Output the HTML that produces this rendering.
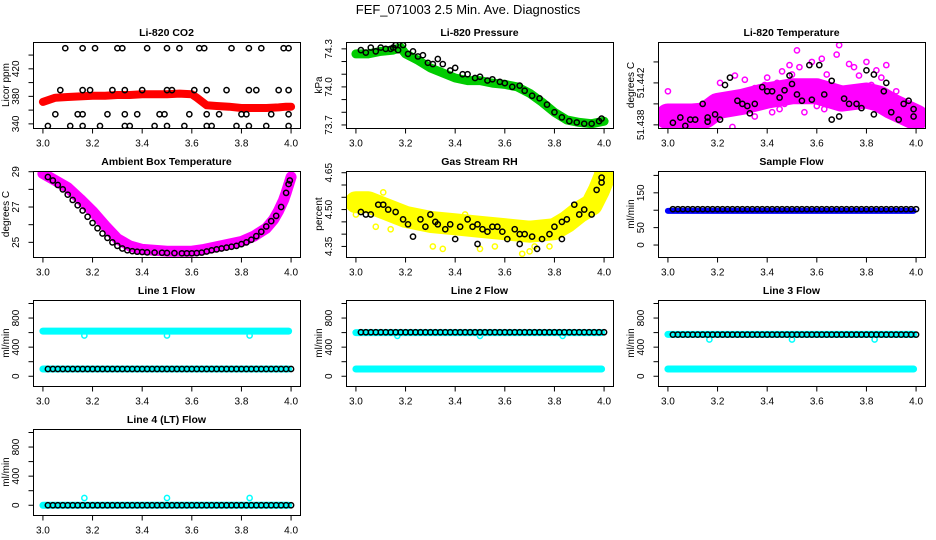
<!DOCTYPE html>
<html><head><meta charset="utf-8"><style>
html,body{margin:0;padding:0;background:#fff;}
svg{display:block;font-family:"Liberation Sans",Arial,sans-serif;}
</style></head><body>
<svg id="chart" width="936" height="540" viewBox="0 0 936 540">
<text x="468" y="14" text-anchor="middle" font-size="13">FEF_071003  2.5 Min. Ave. Diagnostics</text>
</svg>
<script>
// ---- data ----
const xTicks = [3.0, 3.2, 3.4, 3.6, 3.8, 4.0];
const xTickLabels = ["3.0", "3.2", "3.4", "3.6", "3.8", "4.0"];

const co2BandX = [3.0,3.05,3.1,3.15,3.2,3.25,3.3,3.35,3.4,3.45,3.5,3.55,3.6,3.62,3.66,3.7,3.75,3.8,3.85,3.9,3.95,3.98,4.0];
const co2BandY = [372,378,379,380,381,381,382,382,383,383,383,384,383,378,367,366,365,363,363,363,364,365,365];
const co2PtsX = [3.09,3.16,3.21,3.3,3.32,3.42,3.5,3.55,3.63,3.65,3.76,3.83,3.88,3.97,3.99,
  3.07,3.16,3.19,3.28,3.33,3.4,3.5,3.52,3.61,3.66,3.74,3.83,3.86,3.95,3.99,
  3.05,3.14,3.16,3.26,3.33,3.38,3.47,3.49,3.59,3.66,3.71,3.8,3.82,3.92,3.99,
  3.02,3.11,3.16,3.23,3.33,3.35,3.45,3.5,3.57,3.66,3.68,3.78,3.83,3.9,3.99];
const co2PtsY = [450,450,450,450,450,450,450,450,450,450,450,450,450,450,450,
  389,389,389,389,389,389,389,389,389,389,389,389,389,389,389,
  354,354,354,354,354,354,354,354,354,354,354,354,354,354,354,
  337,337,337,337,337,337,337,337,337,337,337,337,337,337,337];

const presBandX = [3.0,3.05,3.1,3.15,3.18,3.2,3.25,3.3,3.35,3.4,3.45,3.5,3.55,3.6,3.65,3.7,3.75,3.8,3.85,3.9,3.95,4.0];
const presBandY = [74.26,74.26,74.28,74.29,74.31,74.26,74.21,74.15,74.11,74.07,74.05,74.05,74.03,74.02,74.0,73.95,73.88,73.8,73.74,73.72,73.71,73.73];
const presPtsX = [3.02,3.04,3.06,3.08,3.1,3.12,3.14,3.15,3.16,3.17,3.19,3.21,3.23,3.25,3.27,3.29,3.31,3.33,3.35,3.38,3.4,3.43,3.45,3.48,3.5,3.53,3.55,3.58,3.6,3.63,3.66,3.68,3.71,3.74,3.77,3.8,3.83,3.86,3.89,3.92,3.95,3.98,3.99];
const presPtsY = [74.29,74.27,74.31,74.28,74.31,74.3,74.3,74.31,74.33,74.29,74.33,74.26,74.28,74.24,74.25,74.19,74.18,74.22,74.18,74.13,74.15,74.1,74.1,74.07,74.08,74.05,74.06,74.04,74.03,74.0,74.01,73.97,73.93,73.91,73.86,73.8,73.76,73.73,73.72,73.71,73.71,73.73,73.75];

const tempBandX = [3.0,3.1,3.15,3.2,3.3,3.4,3.5,3.6,3.7,3.8,3.85,3.9,4.0];
const tempBandY = [51.4388,51.4388,51.4389,51.4398,51.4402,51.4408,51.4412,51.4412,51.4405,51.4408,51.4405,51.4398,51.4387];
const tempMagX = [3.0,3.01,3.03,3.05,3.07,3.09,3.12,3.14,3.17,3.19,3.21,3.23,3.25,3.26,3.27,3.29,3.31,3.33,3.35,3.37,3.39,3.4,3.42,3.44,3.46,3.47,3.49,3.5,3.52,3.53,3.55,3.56,3.58,3.6,3.62,3.64,3.66,3.68,3.69,3.71,3.73,3.75,3.77,3.79,3.8,3.82,3.84,3.86,3.88,3.9,3.92,3.94,3.96,3.98,3.99,3.07,3.2,3.35,3.45,3.58,3.63,3.7,3.85,3.95];
const tempMagY = [51.4412,51.4395,51.4383,51.4393,51.4379,51.4392,51.4381,51.4394,51.4382,51.4405,51.4420,51.4403,51.4397,51.4378,51.4427,51.4410,51.4423,51.4391,51.4415,51.4398,51.4418,51.4425,51.4392,51.4420,51.4431,51.4400,51.4437,51.4428,51.4451,51.4435,51.4392,51.4410,51.4440,51.4398,51.4443,51.4428,51.4415,51.4447,51.4456,51.4405,51.4438,51.4435,51.4427,51.4412,51.4440,51.4418,51.4432,51.4425,51.4437,51.4405,51.4412,51.4388,51.4400,51.4392,51.4386,51.4386,51.4392,51.4388,51.4395,51.4420,51.4395,51.4398,51.4410,51.4383];
const tempBlkX = [3.02,3.05,3.07,3.09,3.11,3.14,3.16,3.16,3.19,3.21,3.23,3.25,3.28,3.3,3.32,3.33,3.35,3.38,3.4,3.42,3.45,3.47,3.49,3.5,3.52,3.54,3.57,3.58,3.61,3.63,3.66,3.66,3.69,3.71,3.73,3.76,3.78,3.8,3.83,3.83,3.87,3.88,3.9,3.93,3.95,3.97,3.99,3.99];
const tempBlkY = [51.4382,51.4387,51.4379,51.4385,51.4385,51.4400,51.4383,51.4387,51.4390,51.4385,51.4418,51.4425,51.4403,51.4400,51.4398,51.4391,51.4400,51.4416,51.4412,51.4412,51.4406,51.4413,51.4427,51.4419,51.4409,51.4403,51.4437,51.4404,51.4437,51.4409,51.4422,51.4385,51.4388,51.4405,51.4400,51.4400,51.4396,51.4432,51.4428,51.4390,51.4412,51.4420,51.4392,51.4385,51.4400,51.4403,51.4395,51.4388];

const ambBandX = [3.0,3.05,3.1,3.15,3.2,3.25,3.3,3.35,3.4,3.5,3.6,3.65,3.7,3.8,3.85,3.9,3.93,3.95,3.97,3.98,4.0];
const ambBandY = [28.9,28.5,28.1,27.45,26.75,25.95,25.2,24.8,24.6,24.5,24.5,24.6,24.75,25.05,25.35,25.8,26.3,26.8,27.4,27.8,28.7];
const ambPtsX = [3.02,3.04,3.06,3.08,3.1,3.12,3.14,3.16,3.18,3.2,3.22,3.24,3.26,3.28,3.3,3.32,3.34,3.36,3.38,3.4,3.42,3.45,3.48,3.5,3.53,3.56,3.58,3.6,3.62,3.64,3.66,3.68,3.7,3.72,3.74,3.76,3.78,3.8,3.82,3.84,3.86,3.88,3.9,3.92,3.94,3.96,3.98,3.99,3.995];
const ambPtsY = [28.7,28.5,28.25,28.0,27.7,27.4,27.1,26.8,26.45,26.1,25.8,25.5,25.25,25.0,24.8,24.65,24.55,24.5,24.47,24.45,24.43,24.42,24.41,24.4,24.39,24.38,24.38,24.38,24.39,24.42,24.48,24.55,24.6,24.65,24.7,24.75,24.8,24.9,25.0,25.15,25.35,25.6,25.9,26.2,26.5,27.0,27.8,28.3,28.5];

const rhBandX = [3.0,3.05,3.1,3.2,3.3,3.4,3.5,3.6,3.7,3.8,3.85,3.9,3.95,3.98,4.0];
const rhBandY = [4.53,4.53,4.51,4.47,4.45,4.44,4.43,4.42,4.41,4.42,4.45,4.49,4.52,4.58,4.63];
const rhBlkX = [3.02,3.04,3.06,3.09,3.11,3.13,3.16,3.19,3.21,3.23,3.26,3.28,3.3,3.32,3.33,3.36,3.38,3.4,3.42,3.45,3.47,3.49,3.49,3.51,3.53,3.55,3.57,3.59,3.61,3.64,3.66,3.66,3.68,3.71,3.73,3.75,3.78,3.8,3.83,3.83,3.85,3.88,3.9,3.92,3.95,3.97,3.99,3.99];
const rhBlkY = [4.49,4.48,4.48,4.52,4.52,4.5,4.49,4.46,4.44,4.39,4.46,4.43,4.48,4.45,4.44,4.42,4.44,4.38,4.43,4.46,4.43,4.44,4.36,4.42,4.41,4.43,4.43,4.41,4.38,4.42,4.4,4.36,4.4,4.39,4.34,4.38,4.4,4.43,4.45,4.38,4.46,4.52,4.48,4.5,4.48,4.58,4.61,4.63];
const rhYelX = [3.0,3.08,3.11,3.14,3.2,3.31,3.35,3.44,3.5,3.56,3.62,3.67,3.7,3.72,3.78,3.84,3.97];
const rhYelY = [4.48,4.43,4.57,4.42,4.49,4.35,4.34,4.48,4.34,4.35,4.44,4.32,4.33,4.35,4.35,4.48,4.66];

const flowT = [3.02,3.04,3.06,3.08,3.1,3.12,3.14,3.16,3.18,3.2,3.22,3.24,3.26,3.28,3.3,3.32,3.34,3.36,3.38,3.4,3.42,3.44,3.46,3.48,3.5,3.52,3.54,3.56,3.58,3.6,3.62,3.64,3.66,3.68,3.7,3.72,3.74,3.76,3.78,3.8,3.82,3.84,3.86,3.88,3.9,3.92,3.94,3.96,3.98,4.0];
const outlierT = [3.167, 3.5, 3.833];
const sampleCyanLevel = 98;  const sampleBlackLevel = 103;
const line1Cyan = [620, 100]; const line1Black = 100; const line1Outlier = 560;
const line2Cyan = [600, 100]; const line2Black = 605; const line2Outlier = 555;
const line3Cyan = [575, 100]; const line3Black = 572; const line3Outlier = 505;
const line4Cyan = [0];        const line4Black = 0;   const line4Outlier = 100;

// ---- drawing ----
const NS = "http://www.w3.org/2000/svg";
const svg = document.getElementById("chart");
const XL = [2.96, 4.036];
const PW = 267, PH = 86;
function mk(tag, attrs, parent) {
  const e = document.createElementNS(NS, tag);
  for (const k in attrs) e.setAttribute(k, attrs[k]);
  (parent || svg).appendChild(e);
  return e;
}
let clipId = 0;
function panel(name, title, ylab, left, top, ylim, yticks, ylabels) {
  const g = mk("g", {});
  
  
  const sx = v => left + (v - XL[0]) / (XL[1] - XL[0]) * PW;
  const sy = v => top + PH - (v - ylim[0]) / (ylim[1] - ylim[0]) * PH;
  const cid = "c" + (clipId++);
  const cp = mk("clipPath", { id: cid }, g);
  mk("rect", { x: left, y: top, width: PW, height: PH }, cp);
  const plot = mk("g", { "clip-path": "url(#" + cid + ")" }, g);
  
  
  const box = mk("rect", { x: left + 0.5, y: top + 0.5, width: PW, height: PH, fill: "none", stroke: "#000", "stroke-width": 1 }, g);
  
  
  const t = mk("text", { x: left + PW / 2, y: top - 6, "text-anchor": "middle", "font-size": 10.5, "font-weight": "bold" }, g);
  t.textContent = title;
  
  
  const xa = mk("g", {}, g);
  
  
  const yb = top + PH + 0.5;
  mk("line", { x1: sx(xTicks[0]), x2: sx(xTicks[xTicks.length - 1]), y1: yb, y2: yb, stroke: "#000" }, xa);
  xTicks.forEach((v, i) => {
    mk("line", { x1: sx(v), x2: sx(v), y1: yb, y2: yb + 5, stroke: "#000" }, xa);
    const l = mk("text", { x: sx(v), y: yb + 18, "text-anchor": "middle", "font-size": 10 }, xa);
    l.textContent = xTickLabels[i];
    
    
  });
  const ya = mk("g", {}, g);
  
  
  const xl = left + 0.5;
  mk("line", { x1: xl, x2: xl, y1: sy(yticks[0]), y2: sy(yticks[yticks.length - 1]), stroke: "#000" }, ya);
  yticks.forEach((v, i) => {
    mk("line", { x1: xl - 5, x2: xl, y1: sy(v), y2: sy(v), stroke: "#000" }, ya);
    if (ylabels[i]) {
      const X = left - 14, Y = sy(v);
      const l = mk("text", { x: X, y: Y, "text-anchor": "middle", "font-size": 10, transform: "rotate(-90 " + X + " " + Y + ")" }, ya);
      l.textContent = ylabels[i];
      
      
    }
  });
  const X = left - 24, Y = top + PH / 2;
  const yl = mk("text", { x: X, y: Y, "text-anchor": "middle", "font-size": 10, transform: "rotate(-90 " + X + " " + Y + ")" }, g);
  yl.textContent = ylab;
  
  
  return { plot, sx, sy, name };
}
function band(P, xs, ys, color, w) {
  const pts = xs.map((x, i) => P.sx(x).toFixed(1) + "," + P.sy(ys[i]).toFixed(1)).join(" ");
  const e = mk("polyline", { points: pts, fill: "none", stroke: color, "stroke-width": w, "stroke-linejoin": "round", "stroke-linecap": "round" }, P.plot);
  
  
}
function pts(P, xs, ys, color, label) {
  const g = mk("g", {}, P.plot);
  
  
  xs.forEach((x, i) => {
    const c = mk("circle", { cx: P.sx(x), cy: P.sy(ys[i]), r: 2.6, fill: "none", stroke: color, "stroke-width": 1.5 }, g);
    
    
  });
}
const C1 = 33, C2 = 346, C3 = 658;
const R = [42, 171, 300, 429];
const flowTicks = [0, 200, 400, 600, 800, 1000], flowLabels = ["0", "", "400", "", "800", ""];
const flowYL = [-134, 1048];

let P = panel("co2", "Li-820 CO2", "Licor ppm", C1, R[0], [334, 459], [340, 360, 380, 400, 420, 440], ["340", "", "380", "", "420", ""]);
band(P, co2BandX, co2BandY, "#ff0000", 8);
pts(P, co2PtsX, co2PtsY, "#000", "black-points");

P = panel("pressure", "Li-820 Pressure", "kPa", C2, R[0], [73.676, 74.354], [73.7, 73.8, 73.9, 74.0, 74.1, 74.2, 74.3], ["73.7", "", "", "74.0", "", "", "74.3"]);
band(P, presBandX, presBandY, "#00cc00", 9);
pts(P, presPtsX, presPtsY, "#000", "black-points");

P = panel("li820-temperature", "Li-820 Temperature", "degrees C", C3, R[0], [51.4377, 51.4459], [51.438, 51.440, 51.442, 51.444], ["51.438", "", "51.442", ""]);
band(P, tempBandX, tempBandY, "#ff00ff", 26);
pts(P, tempMagX, tempMagY, "#ff00ff", "magenta-points");
pts(P, tempBlkX, tempBlkY, "#000", "black-points");

P = panel("ambient-temperature", "Ambient Box Temperature", "degrees C", C1, R[1], [24.17, 29.04], [25, 26, 27, 28, 29], ["25", "", "27", "", "29"]);
band(P, ambBandX, ambBandY, "#ff00ff", 11);
pts(P, ambPtsX, ambPtsY, "#000", "black-points");

P = panel("gas-stream-rh", "Gas Stream RH", "percent", C2, R[1], [4.307, 4.657], [4.35, 4.40, 4.45, 4.50, 4.55, 4.60, 4.65], ["4.35", "", "", "4.50", "", "", "4.65"]);
band(P, rhBandX, rhBandY, "#ffff00", 22);
pts(P, rhYelX, rhYelY, "#ffff00", "yellow-points");
pts(P, rhBlkX, rhBlkY, "#000", "black-points");

P = panel("sample-flow", "Sample Flow", "ml/min", C3, R[1], [-34.4, 212.7], [0, 50, 100, 150, 200], ["0", "50", "", "150", ""]);
band(P, [3.0, 3.99], [sampleCyanLevel, sampleCyanLevel], "#0000ff", 6);
pts(P, flowT, flowT.map(() => sampleBlackLevel), "#000", "black-points");

function flowPanel(name, title, left, top, cyan, black, outlier) {
  const Q = panel(name, title, "ml/min", left, top, flowYL, flowTicks, flowLabels);
  cyan.forEach(v => band(Q, [3.0, 3.99], [v, v], "#00ffff", 7));
  pts(Q, outlierT, outlierT.map(() => outlier), "#00ffff", "cyan-outliers");
  pts(Q, flowT, flowT.map(() => black), "#000", "black-points");
}
flowPanel("line1-flow", "Line 1 Flow", C1, R[2], line1Cyan, line1Black, line1Outlier);
flowPanel("line2-flow", "Line 2 Flow", C2, R[2], line2Cyan, line2Black, line2Outlier);
flowPanel("line3-flow", "Line 3 Flow", C3, R[2], line3Cyan, line3Black, line3Outlier);
flowPanel("line4-flow", "Line 4 (LT) Flow", C1, R[3], line4Cyan, line4Black, line4Outlier);
</script>
</body></html>
